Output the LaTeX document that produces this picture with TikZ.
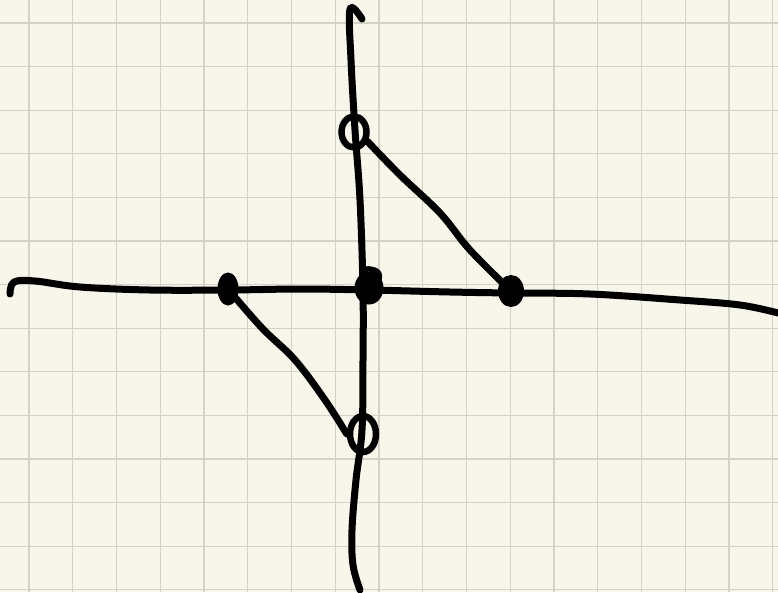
\documentclass[tikz,border=0pt]{standalone}
\usetikzlibrary{shapes.geometric}
\definecolor{paper}{HTML}{F8F6EA}
\definecolor{gridc}{HTML}{D2D2C6}
\tikzset{
  ink/.style={draw=black, line width=7pt, line cap=round, line join=round},
  opendot/.style={ellipse, draw=black, line width=6.5pt, inner sep=0pt},
  fulldot/.style={ellipse, fill=black, inner sep=0pt},
  gridline/.style={draw=gridc, line width=1.2pt}
}
\begin{document}
\begin{tikzpicture}[x=1pt,y=-1pt]
\useasboundingbox (0,0) rectangle (778,592);
\fill[paper] (0,0) rectangle (778,592);
\foreach \k in {0,...,17} \draw[gridline] ({29+43.75*\k},0) -- ({29+43.75*\k},592);
\foreach \k in {0,...,13} \draw[gridline] (0,{23+43.6*\k}) -- (778,{23+43.6*\k});
% axes
\draw[ink] plot[smooth, tension=0.6] coordinates {(362,19) (350,9) (351,60) (355,130) (360,200) (363,290) (363,360) (362,430) (356,480) (352,530) (353,565) (360,590)};
\draw[ink] plot[smooth, tension=0.6] coordinates {(10,294) (14,282) (35,281) (80,287) (150,290) (230,290) (300,289) (370,290) (450,292) (510,293) (590,294) (680,300) (740,305) (778,313)};
% points
\node[opendot, minimum width=25pt, minimum height=31pt] (topc) at (354,132) {};
\node[opendot, minimum width=26pt, minimum height=36pt] (botc) at (363,434) {};
\node[fulldot, minimum width=26pt, minimum height=32pt] (rdot) at (511,291) {};
\node[fulldot, minimum width=21pt, minimum height=33pt] (ldot) at (228,289) {};
\node[fulldot, minimum width=29pt, minimum height=33pt] (cdot) at (369,288) {};
\draw[ink, line width=5.5pt] (cdot.north) ++(-3,-2) .. controls (370,268) and (382,270) .. (379,279);
% connectors
\draw[ink] plot[smooth, tension=0.6] coordinates {(topc.-35) (400,175) (440,213) (470,250) (rdot.center)};
\draw[ink] plot[smooth, tension=0.6] coordinates {(ldot.center) (262,328) (295,360) (325,400) (botc.west)};
\end{tikzpicture}
\end{document}
